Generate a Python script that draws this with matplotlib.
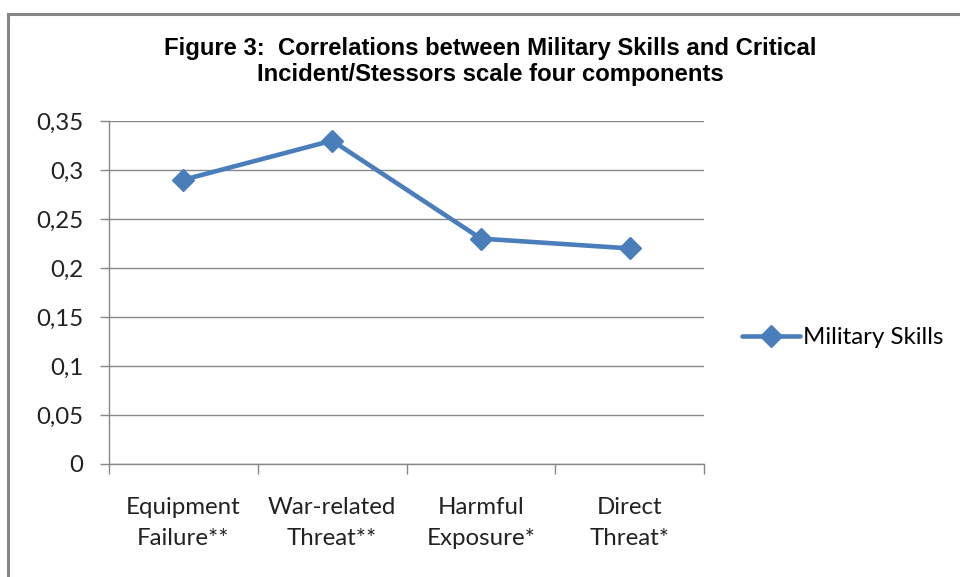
import matplotlib
matplotlib.use("Agg")
import matplotlib.pyplot as plt
from matplotlib.patches import Rectangle

# data
categories = ["Equipment\nFailure**", "War-related\nThreat**", "Harmful\nExposure*", "Direct\nThreat*"]
values = [0.29, 0.33, 0.23, 0.22]
yticks = [0, 0.05, 0.1, 0.15, 0.2, 0.25, 0.3, 0.35]
ylabels = ["0", "0,05", "0,1", "0,15", "0,2", "0,25", "0,3", "0,35"]

line_color = "#4A7EBB"
grid_color = "#878787"
label_font = ["Lato", "DejaVu Sans"]

fig = plt.figure(figsize=(9.6, 5.77), dpi=100)
ax = fig.add_axes([109/960, 1 - 464/577, (704 - 109)/960, (464 - 121)/577])

x = list(range(len(categories)))
ax.plot(x, values, color=line_color, lw=3.3, marker="D", markersize=11,
        label="Military Skills", solid_capstyle="round")

ax.set_xlim(-0.5, len(categories) - 0.5)
ax.set_ylim(0, 0.35)
ax.set_yticks(yticks)
ax.set_yticklabels(ylabels, fontsize=17.3, family=label_font, color="#222222")
ax.set_xticks(x)
ax.set_xticklabels(categories, fontsize=17.3, family=label_font, color="#222222",
                   linespacing=1.55)
ax.tick_params(axis="x", length=0, pad=24)
ax.tick_params(axis="y", length=6.5, color=grid_color, width=1, pad=12)

# tick marks between categories on x axis
ax.set_xticks([i - 0.5 for i in range(len(categories) + 1)], minor=True)
ax.tick_params(axis="x", which="minor", length=7, color=grid_color, width=1)

ax.grid(axis="y", color=grid_color, lw=1)
ax.set_axisbelow(True)
for side in ["top", "right"]:
    ax.spines[side].set_visible(False)
for side in ["left", "bottom"]:
    ax.spines[side].set_color(grid_color)
    ax.spines[side].set_linewidth(1)

leg = ax.legend(loc="center left", bbox_to_anchor=((742 - 109)/595, (464 - 338)/343),
                frameon=False, prop={"family": label_font, "size": 17.3},
                handlelength=2.4, handletextpad=0.15, borderaxespad=0,
                borderpad=0)

fig.text(490/960, 1 - 48/577, "Figure 3:  Correlations between Military Skills and Critical",
         ha="center", va="center", fontsize=17.2, fontweight="bold", family="Liberation Sans")
fig.text(490/960, 1 - 75/577, "Incident/Stessors scale four components",
         ha="center", va="center", fontsize=17.2, fontweight="bold", family="Liberation Sans")

# chart border
fig.patches.append(Rectangle((7.5/960, -0.1), 1.2, 1.1 - 13.5/577, transform=fig.transFigure,
                             fill=False, edgecolor="#868686", lw=2.2))

fig.savefig("out.png", dpi=100)
